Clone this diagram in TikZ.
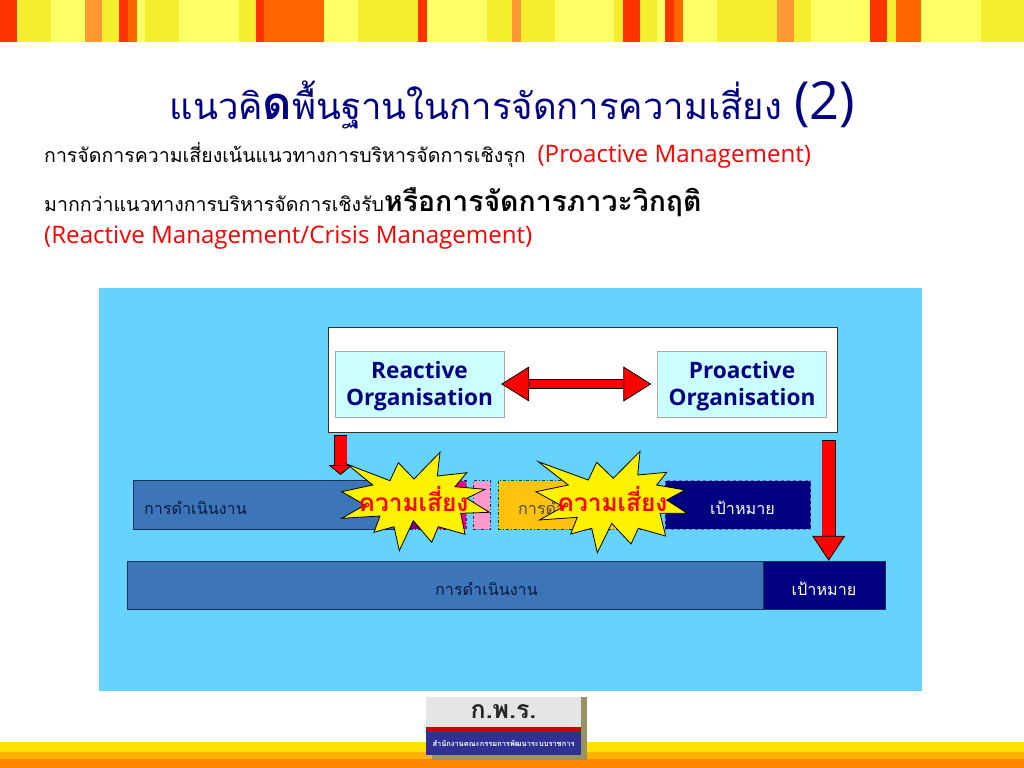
\documentclass[tikz,border=0pt]{standalone}
\usepackage{fontspec}
\setmainfont{Open Sans}
\newfontfamily\thaifont[Script=Thai]{Loma}
\usetikzlibrary{arrows.meta}
\definecolor{panelblue}{HTML}{66D3FF}
\definecolor{barblue}{HTML}{3C76B8}
\definecolor{goalnavy}{HTML}{000080}
\definecolor{lightcyan}{HTML}{CCFFFF}
\definecolor{barline}{HTML}{12305A}
\definecolor{bartint}{HTML}{0A1A40}
\definecolor{bargold}{HTML}{FFC20E}
\definecolor{barpink}{HTML}{FF99CC}
\definecolor{logoblue}{HTML}{2E3192}
\definecolor{stripred}{HTML}{FF3300}
\definecolor{stripdeep}{HTML}{FF6600}
\definecolor{stripamber}{HTML}{FF9933}
\definecolor{stripyellow}{HTML}{F5EE2E}
\definecolor{striplight}{HTML}{FFFF66}
\tikzset{
  orgbox/.style={draw=gray!70,fill=lightcyan,minimum width=169bp,minimum height=66bp,inner sep=0pt},
  orgtext/.style={align=center,inner sep=0pt,text=goalnavy,font=\fontsize{22.7}{27}\selectfont\bfseries},
  barbox/.style={draw=barline,line width=.9bp,minimum height=48.5bp,inner sep=0pt},
  bartext/.style={inner sep=0pt,font=\thaifont\fontsize{16.2}{20}\selectfont},
  risktext/.style={inner sep=0pt,text=red,font=\thaifont\fontsize{24.6}{28}\selectfont\bfseries},
  bodyline/.style={anchor=west,inner sep=0pt,font=\thaifont\fontsize{19.6}{24}\selectfont},
  redtext/.style={text=red,font=\fontsize{24.2}{26}\selectfont},
  blockarrow/.style={draw=black,line width=.8bp,double=red,double distance=#1},
  burst/.style={fill=yellow,line width=.8bp},
  burstleft/.pic={
    \draw[burst] (-57.7,35.7) -- (-15,19.3) -- (-6.7,37.3) -- (9,21) -- (35,47.7) -- (32.3,24) -- (61.7,27.3) -- (50,13.3) -- (80,10.7) -- (61.7,1.7) -- (84.3,-12.3) -- (55.7,-13.3) -- (60,-34.3) -- (33.3,-26.7) -- (26.7,-42.3) -- (8.3,-20.7) -- (-5.7,-50.7) -- (-11,-26.7) -- (-31,-32.3) -- (-25,-16) -- (-63.3,-18.3) -- (-40,-5) -- (-63.3,8.3) -- (-32.3,15) -- cycle;
  },
  burstright/.pic={
    \draw[burst] (-65.7,36.3) -- (-15.7,18) -- (-7.3,35.7) -- (9.3,19.7) -- (36,46.7) -- (33.7,23) -- (62.7,25.7) -- (52.7,13) -- (81,8) -- (62.7,-2) -- (83.3,-15.3) -- (56,-15.3) -- (61.7,-38) -- (34.3,-30.3) -- (27,-46) -- (7.7,-25.3) -- (-6.7,-54.7) -- (-12.3,-30.3) -- (-33.3,-36) -- (-26.7,-19.3) -- (-64.7,-22) -- (-40.7,-8.7) -- (-68,6.3) -- (-35.7,13) -- cycle;
  }
}
\begin{document}
\begin{tikzpicture}[x=1bp,y=1bp]
\useasboundingbox (0,0) rectangle (1024,-768);

% top strip
\foreach \xa/\xb/\clr in {0/17/stripred,17/51/stripyellow,51/85/striplight,85/102/stripamber,102/119/stripyellow,119/128/stripred,128/136.5/stripdeep,136.5/145/striplight,145/179/stripyellow,179/239/striplight,239/256/stripyellow,256/264/stripred,264/324/stripdeep,324/358/striplight,358/418/stripyellow,418/427/stripred,427/487/striplight,487/512/stripyellow,512/520.5/stripamber,520.5/554.7/stripyellow,554.7/614/striplight,614/622.7/stripyellow,622.7/640/stripred,640/657/stripyellow,657/665/striplight,665/674/stripred,674/682.7/stripdeep,682.7/717/striplight,717/776.7/stripyellow,776.7/793.7/stripamber,793.7/810.7/stripyellow,810.7/870/striplight,870/887/stripred,887/895.7/stripyellow,895.7/921/stripdeep,921/981/striplight,981/1024/stripyellow}
  \fill[\clr] (\xa,0) rectangle (\xb,-42.5);

% bottom strip
\fill[yellow!85!orange] (0,-742) rectangle (1024,-752);
\fill[orange!60!yellow] (0,-752) rectangle (1024,-759);
\fill[orange!95!yellow] (0,-759) rectangle (1024,-768);

% heading
\node (Title) at (512.5bp,-104.5bp)[inner sep=0pt,text=goalnavy] {\thaifont\fontsize{36.6}{40}\selectfont แนวคิ\fontsize{45.5}{40}\selectfont\bfseries ด\mdseries\fontsize{36.6}{40}\selectfont พื้นฐานในการจัดการความเสี่ยง \rmfamily\fontsize{52.6}{40}\selectfont (2)};
\node (LineA) at (44bp,-155bp)[bodyline] {การจัดการความเสี่ยงเน้นแนวทางการบริหารจัดการเชิงรุก\hspace{12bp}{\rmfamily\color{red}\fontsize{24.2}{26}\selectfont (Proactive Management)}};
\node (LineB) at (44bp,-202bp)[bodyline] {มากกว่าแนวทางการบริหารจัดการเชิงรับ{\bfseries\fontsize{28.5}{30}\selectfont หรือการจัดการภาวะวิกฤติ}};
\node (LineC) at (44bp,-238bp)[anchor=west,inner sep=0pt,redtext] {(Reactive Management/Crisis Management)};

% panel
\node (Panel) at (510.5bp,-489.5bp)[fill=panelblue,minimum width=823bp,minimum height=403bp,inner sep=0pt] {};
\node (Frame) at (582.5bp,-379.5bp)[draw=black!80,fill=white,minimum width=509bp,minimum height=105bp,inner sep=0pt] {};
\node (Reactive) at (419.5bp,-384bp)[orgbox] {};
\node (Proactive) at (742bp,-384bp)[orgbox] {};
\node (ReactiveText) at (419.5bp,-386bp)[orgtext] {Reactive\\Organisation};
\node (ProactiveText) at (742bp,-386bp)[orgtext] {Proactive\\Organisation};

% upper row
\node (RunA) at (272bp,-505bp)[barbox,fill=barblue,minimum width=277bp] {};
\node (Lost) at (424bp,-505bp)[barbox,fill=violet,minimum width=27bp,dash dot] {};
\node (Risky) at (450.5bp,-505bp)[barbox,fill=magenta,minimum width=31bp,dash dot] {};
\node (Small) at (481.5bp,-505bp)[barbox,fill=barpink,minimum width=17bp,dash dot] {};
\node (RunB) at (570.5bp,-505bp)[barbox,fill=bargold,minimum width=145bp,dash dot,draw=black!70!green] {};
\node (GoalA) at (738bp,-505bp)[barbox,fill=goalnavy,draw=goalnavy!60,minimum width=145.5bp,dashed] {};
\node (RunAText) at (144bp,-508bp)[anchor=west,bartext,text=bartint] {การดำเนินงาน};
\node (RunBText) at (518bp,-508bp)[anchor=west,bartext,text=black!70] {การดำเนินงาน};
\node (GoalAText) at (742.5bp,-508bp)[bartext,text=white] {เป้าหมาย};

% lower row
\node (RunC) at (445.5bp,-585.5bp)[barbox,fill=barblue,minimum width=635.5bp] {};
\node (GoalB) at (824bp,-585.5bp)[barbox,fill=goalnavy,minimum width=122bp] {};
\node (RunCText) at (486.5bp,-589bp)[bartext,text=bartint] {การดำเนินงาน};
\node (GoalBText) at (824bp,-589bp)[bartext,text=white] {เป้าหมาย};

% arrows
\coordinate (DropA) at (340.5bp,-435bp);
\coordinate (DropB) at (828.7bp,-440bp);
\draw [blockarrow=12bp,{Bar[width=13.6bp,line width=.8bp]}-{Triangle[length=10bp,width=24bp,fill=red,color=black,line width=.8bp]}] (DropA) to (340.5bp,-475bp);
\draw [blockarrow=12.5bp,{Bar[width=14bp,line width=.8bp]}-{Triangle[length=25bp,width=33bp,fill=red,color=black,line width=.8bp]}] (DropB) to (GoalB.north -| DropB);
\draw [blockarrow=8bp,{Triangle[length=28bp,width=35bp,fill=red,color=black,line width=.8bp]}-{Triangle[length=28bp,width=35bp,fill=red,color=black,line width=.8bp]},shorten <=-3bp,shorten >=6bp] (Reactive) to (Proactive);

% bursts
\pic (BurstA) at (405bp,-500bp) {burstleft};
\pic (BurstB) at (604bp,-498bp) {burstright};
\node (RiskA) at (413.5bp,-499bp)[risktext] {ความเสี่ยง};
\node (RiskB) at (612.5bp,-499bp)[risktext] {ความเสี่ยง};

% logo
\node (LogoShade) at (509.5bp,-728.5bp)[fill=black!45!yellow!60!gray,minimum width=155bp,minimum height=63bp,inner sep=0pt] {};
\node (LogoTop) at (503.5bp,-712bp)[fill=black!10,minimum width=155bp,minimum height=30bp,inner sep=0pt,font=\thaifont\fontsize{25}{26}\selectfont\bfseries,text=black!85] {ก.พ.ร.};
\node (LogoRed) at (503.5bp,-729.5bp)[fill=red!80!black,minimum width=155bp,minimum height=5bp,inner sep=0pt] {};
\node (LogoBlue) at (503.5bp,-743.5bp)[fill=logoblue,minimum width=155bp,minimum height=23bp,inner sep=0pt,font=\thaifont\fontsize{7.5}{9}\selectfont\bfseries,text=white] {สำนักงานคณะกรรมการพัฒนาระบบราชการ};
\end{tikzpicture}
\end{document}
